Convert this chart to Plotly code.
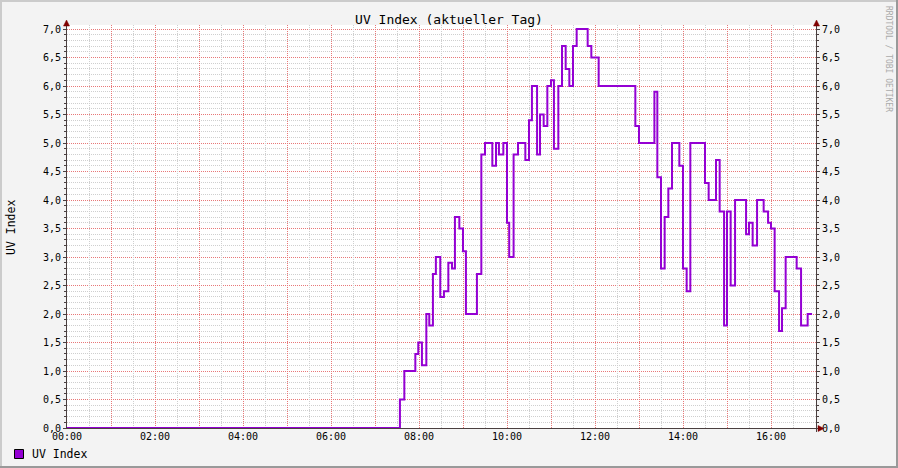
import plotly.graph_objects as go

DAY = "2024-06-01"

# --- data ---
times = ["00:00", "07:34", "07:40", "07:55", "07:59", "08:04", "08:10", "08:14", "08:19", "08:23",
         "08:29", "08:34", "08:40", "08:45", "08:49", "08:55", "09:00", "09:04", "09:19", "09:25",
         "09:30", "09:40", "09:45", "09:49", "09:55", "10:00", "10:03", "10:09", "10:15", "10:25",
         "10:30", "10:34", "10:41", "10:45", "10:50", "10:55", "11:00", "11:04", "11:10", "11:15",
         "11:20", "11:25", "11:30", "11:35", "11:50", "11:55", "12:05", "12:55", "13:00", "13:21",
         "13:25", "13:30", "13:35", "13:40", "13:45", "13:55", "14:00", "14:05", "14:10", "14:30",
         "14:35", "14:45", "14:50", "14:56", "15:00", "15:05", "15:11", "15:26", "15:30", "15:35",
         "15:41", "15:50", "15:56", "16:00", "16:05", "16:11", "16:15", "16:20", "16:35", "16:41",
         "16:50", "16:56"]
uv_values = [0.0, 0.5, 1.0, 1.3, 1.5, 1.1, 2.0, 1.8, 2.7, 3.0,
             2.3, 2.4, 2.9, 2.8, 3.7, 3.5, 3.1, 2.0, 2.7, 4.8,
             5.0, 4.6, 5.0, 4.8, 5.0, 3.6, 3.0, 4.8, 5.0, 4.7,
             5.4, 6.0, 4.8, 5.5, 5.3, 6.0, 6.1, 4.9, 6.0, 6.7,
             6.3, 6.0, 6.7, 7.0, 6.7, 6.5, 6.0, 5.3, 5.0, 5.9,
             4.4, 2.8, 3.7, 4.2, 5.0, 4.6, 2.8, 2.4, 5.0, 4.3,
             4.0, 4.7, 3.8, 1.8, 3.8, 2.5, 4.0, 3.4, 3.6, 3.2,
             4.0, 3.8, 3.6, 3.5, 2.4, 1.7, 2.1, 3.0, 2.8, 1.8,
             2.0, 2.0]
hour_ticks = list(range(0, 18))
hour_labels = ["00:00", "", "02:00", "", "04:00", "", "06:00", "", "08:00", "",
               "10:00", "", "12:00", "", "14:00", "", "16:00", ""]
x_end = "17:01:22"
y_min, y_max = -0.0175, 7.0702

series_name = "UV Index"
title_text = "UV Index (aktueller Tag)"
watermark = "RRDTOOL / TOBI OETIKER"

# --- geometry ---
W, H = 898, 468
ML, MR, MT, MB = 67, 82, 25, 39
PW, PH = W - ML - MR, H - MT - MB


def px(xp):
    return (xp - ML) / PW


def py(yp):
    return (H - MB - yp) / PH


FONT = "DejaVu Sans Mono"
LINE_COLOR = "#9400d3"
AXIS_COLOR = "#4a3f3f"
ARROW_COLOR = "#7f0000"
GRID = "#cfcfcf"
MGRID = "#e87878"
DASH = "1px,1px"

xs = [f"{DAY} {t}" for t in times]
x_range = [f"{DAY} 00:00", f"{DAY} {x_end}"]
hour_vals = [f"{DAY} {h:02d}:00" for h in hour_ticks]
half_vals = [f"{DAY} {h:02d}:30" for h in hour_ticks]
y_minor = [round(i * 0.1, 1) for i in range(71) if i % 5 != 0]

fig = go.Figure()
fig.add_trace(go.Scatter(x=xs, y=uv_values, mode="lines", name=series_name,
                         line=dict(color=LINE_COLOR, width=2, shape="hv"),
                         showlegend=False))
fig.add_trace(go.Scatter(x=[xs[0]], y=[0], xaxis="x2", yaxis="y2", mode="markers",
                         marker=dict(opacity=0), showlegend=False, hoverinfo="skip"))

fig.update_layout(
    width=W, height=H,
    margin=dict(l=ML, r=MR, t=MT, b=MB),
    paper_bgcolor="#f3f3f3", plot_bgcolor="#ffffff",
    separators=",.",
    font=dict(family=FONT, size=10, color="#000000"),
    title=dict(text=title_text, x=0.5, xref="container", xanchor="center",
               y=1 - 19 / H, yref="container", yanchor="middle",
               font=dict(family=FONT, size=13, color="#000000")),
    # main x axis: hourly red grid + labels every two hours
    xaxis=dict(type="date", range=x_range,
               tickmode="array", tickvals=hour_vals, ticktext=hour_labels,
               showgrid=True, gridcolor=MGRID, griddash=DASH, gridwidth=1,
               ticks="", showline=False, zeroline=False,
               tickfont=dict(family=FONT, size=10)),
    # overlay x axis: half-hour grey grid
    xaxis2=dict(type="date", range=x_range, overlaying="x", side="bottom",
                tickmode="array", tickvals=half_vals,
                showticklabels=False, showgrid=True, gridcolor=GRID, griddash=DASH,
                gridwidth=1, ticks="", showline=False, zeroline=False),
    yaxis=dict(range=[y_min, y_max], tickmode="linear", tick0=0, dtick=0.5,
               tickformat=".1f", showgrid=True, gridcolor=MGRID, griddash=DASH,
               ticks="outside", ticklen=3, tickcolor=AXIS_COLOR, showline=False,
               zeroline=False, tickfont=dict(family=FONT, size=10),
               minor=dict(tickmode="array", tickvals=y_minor, showgrid=True, gridcolor=GRID,
                          griddash=DASH, ticks="outside", ticklen=2, tickcolor=AXIS_COLOR)),
    yaxis2=dict(range=[y_min, y_max], overlaying="y", side="right", tickmode="linear",
                tick0=0, dtick=0.5, tickformat=".1f", showgrid=False,
                ticks="outside", ticklen=3, tickcolor=AXIS_COLOR, showline=False,
                zeroline=False, tickfont=dict(family=FONT, size=10),
                minor=dict(tickmode="array", tickvals=y_minor, ticks="outside", ticklen=2,
                           tickcolor=AXIS_COLOR, showgrid=False)),
)

shapes = []
# frame (3D shade)
shapes.append(dict(type="line", xref="paper", yref="paper", x0=px(0), x1=px(W), y0=py(1), y1=py(1),
                   line=dict(color="#cbcbcb", width=2)))
shapes.append(dict(type="line", xref="paper", yref="paper", x0=px(1), x1=px(1), y0=py(0), y1=py(H),
                   line=dict(color="#cbcbcb", width=2)))
shapes.append(dict(type="line", xref="paper", yref="paper", x0=px(0), x1=px(W), y0=py(H - 1), y1=py(H - 1),
                   line=dict(color="#999999", width=2)))
shapes.append(dict(type="line", xref="paper", yref="paper", x0=px(W - 1), x1=px(W - 1), y0=py(0), y1=py(H),
                   line=dict(color="#999999", width=2)))
# axes
shapes.append(dict(type="line", xref="paper", yref="paper", x0=px(66.5), x1=px(66.5), y0=py(428.5), y1=py(24),
                   line=dict(color=AXIS_COLOR, width=1)))
shapes.append(dict(type="line", xref="paper", yref="paper", x0=px(816.5), x1=px(816.5), y0=py(432), y1=py(24),
                   line=dict(color=AXIS_COLOR, width=1)))
shapes.append(dict(type="line", xref="paper", yref="paper", x0=px(63), x1=px(819), y0=py(428.5), y1=py(428.5),
                   line=dict(color=AXIS_COLOR, width=1)))


def tri(p1, p2, p3):
    return dict(type="path", xref="paper", yref="paper",
                path=f"M {px(p1[0])},{py(p1[1])} L {px(p2[0])},{py(p2[1])} L {px(p3[0])},{py(p3[1])} Z",
                fillcolor=ARROW_COLOR, line=dict(color=ARROW_COLOR, width=0.5))


shapes.append(tri((63.5, 26), (69.5, 26), (66.5, 20)))
shapes.append(tri((813.5, 26), (819.5, 26), (816.5, 20)))
shapes.append(tri((818, 425.5), (818, 431.5), (824, 428.5)))
# legend swatch
shapes.append(dict(type="rect", xref="paper", yref="paper", x0=px(14.5), x1=px(23.5), y0=py(449.5), y1=py(458.5),
                   fillcolor=LINE_COLOR, line=dict(color="#000000", width=1)))
fig.update_layout(shapes=shapes)

fig.add_annotation(text=series_name, xref="paper", yref="paper", x=px(30), y=py(454),
                   xanchor="left", yanchor="middle", showarrow=False,
                   font=dict(family=FONT, size=11.5, color="#000000"))
fig.add_annotation(text=series_name, xref="paper", yref="paper", x=px(11), y=py(228),
                   xanchor="center", yanchor="middle", textangle=-90, showarrow=False,
                   font=dict(family=FONT, size=11.5, color="#000000"))
fig.add_annotation(text=watermark, xref="paper", yref="paper", x=px(888), y=py(4),
                   xanchor="center", yanchor="top", textangle=90, showarrow=False,
                   font=dict(family=FONT, size=8, color="#aaaaaa"))

fig.write_html("out.html", config={"displayModeBar": False},
               post_script="document.body.style.margin='0';document.body.style.overflow='hidden';")
